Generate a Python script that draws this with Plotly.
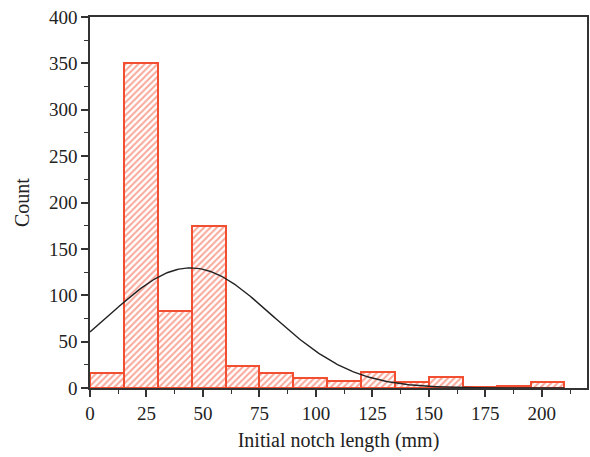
import numpy as np
import plotly.graph_objects as go

bin_left = [0, 15, 30, 45, 60, 75, 90, 105, 120, 135, 150, 165, 180, 195]
counts = [16, 350, 83, 175, 24, 16, 11, 8, 17, 6, 12, 1, 2, 6]
bin_width = 15

# fitted normal curve parameters
fit_mean = 44.5
fit_sd = 36.0
fit_peak = 129.5
fit_x_range = [0, 210]

x_centers = [b + bin_width / 2 for b in bin_left]
xc = np.linspace(fit_x_range[0], fit_x_range[1], 300)
yc = fit_peak * np.exp(-((xc - fit_mean) ** 2) / (2 * fit_sd ** 2))

red = "rgb(242,78,50)"
fig = go.Figure()
fig.add_trace(go.Bar(
    x=x_centers, y=counts, width=bin_width,
    marker=dict(color="white", line=dict(color=red, width=2),
                pattern=dict(shape="/", fgcolor=red, bgcolor="white", size=4.5, solidity=0.45)),
    showlegend=False,
))
fig.add_trace(go.Scatter(x=xc, y=yc, mode="lines", line=dict(color="#222", width=1.4), showlegend=False))

fam = "Liberation Serif, Times New Roman, serif"
font = dict(family=fam, size=19, color="#222")
axis_common = dict(showline=True, linecolor="#333", linewidth=1.5, mirror=True, ticks="outside",
                   ticklen=7, tickwidth=1.5, tickcolor="#333", showgrid=False, zeroline=False,
                   tickfont=font)
fig.update_layout(
    width=590, height=457, margin=dict(l=90, r=1, t=17, b=69),
    paper_bgcolor="white", plot_bgcolor="white", bargap=0,
    font=font,
)
fig.update_xaxes(range=[0, 220], tickvals=[0, 25, 50, 75, 100, 125, 150, 175, 200],
                 minor=dict(dtick=12.5, tick0=0, ticks="outside", ticklen=4, tickwidth=1.2, tickcolor="#333"),
                 title=dict(text="Initial notch length (mm)", font=dict(family=fam, size=20, color="#222"), standoff=10),
                 **axis_common)
fig.update_yaxes(range=[0, 400], dtick=50,
                 minor=dict(dtick=25, tick0=0, ticks="outside", ticklen=4, tickwidth=1.2, tickcolor="#333"),
                 title=dict(text="Count", font=dict(family=fam, size=20, color="#222"), standoff=14),
                 **axis_common)
fig.write_html("out.html")
